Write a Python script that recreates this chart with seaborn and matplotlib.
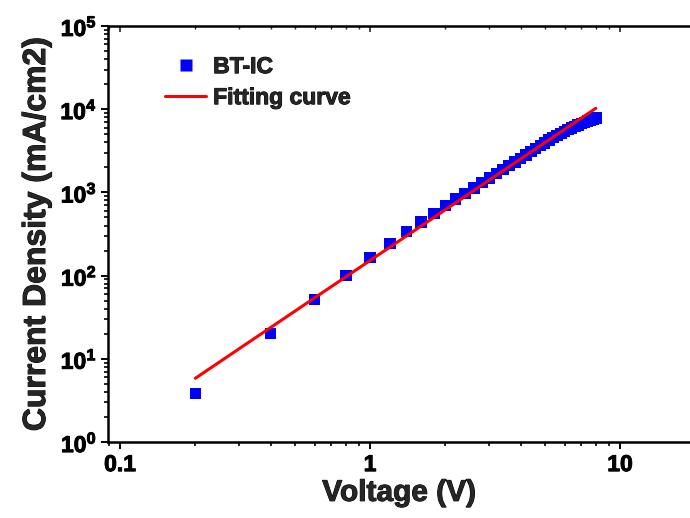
import numpy as np
import pandas as pd
import matplotlib
matplotlib.use("Agg")
import matplotlib.pyplot as plt
import matplotlib.patheffects as pe
from matplotlib.ticker import LogLocator, FixedLocator, FixedFormatter, NullFormatter
from matplotlib.lines import Line2D
import seaborn as sns

# Measured J-V data (BT-IC device)
voltage = [0.2, 0.4, 0.6, 0.8, 1.0, 1.2, 1.4, 1.6, 1.8, 2.0,
           2.2, 2.4, 2.6, 2.8, 3.0, 3.2, 3.4, 3.6, 3.8, 4.0,
           4.2, 4.4, 4.6, 4.8, 5.0, 5.2, 5.4, 5.6, 5.8, 6.0,
           6.2, 6.4, 6.6, 6.8, 7.0, 7.2, 7.4, 7.6, 7.8, 8.0]
current_density = [3.85, 20.2, 52, 100, 164, 244, 337, 441, 561, 692,
                   834, 975, 1130, 1309, 1490, 1680, 1880, 2100, 2330, 2570,
                   2820, 3080, 3360, 3640, 3940, 4240, 4540, 4840, 5140, 5430,
                   5710, 5980, 6240, 6490, 6730, 6970, 7190, 7410, 7620, 7830]

# Power-law fit, straight line in log-log space between its end points
fit_voltage = [0.2, 8.0]
fit_density = [5.83, 10250]

y_ticks = [1, 10, 100, 1000, 10000, 100000]
y_tick_labels = [r"$10^{0}$", r"$10^{1}$", r"$10^{2}$", r"$10^{3}$", r"$10^{4}$", r"$10^{5}$"]
x_ticks = [0.1, 1, 10]
x_tick_labels = ["0.1", "1", "10"]

sns.set_style("ticks")
plt.rcParams["font.family"] = ["Liberation Sans", "DejaVu Sans"]
plt.rcParams["font.weight"] = "bold"
plt.rcParams["mathtext.fontset"] = "custom"
plt.rcParams["mathtext.rm"] = "Liberation Sans:bold"
plt.rcParams["mathtext.it"] = "Liberation Sans:bold"
plt.rcParams["mathtext.bf"] = "Liberation Sans:bold"

# a thin outline thickens the bold lettering a little
heavy = [pe.withStroke(linewidth=0.7, foreground="black")]

df_data = pd.DataFrame({"V": voltage, "J": current_density})
df_fit = pd.DataFrame({"V": fit_voltage, "J": fit_density})

fig = plt.figure(figsize=(6.9, 5.18), dpi=100)
ax = fig.add_axes([108 / 690, 76 / 518, 1 - 108 / 690, 416 / 518])

sns.lineplot(data=df_fit, x="V", y="J", ax=ax, color="#ff0000", linewidth=2.2,
             zorder=3, legend=False)
sns.scatterplot(data=df_data, x="V", y="J", ax=ax, marker="s", s=68,
                color="#0000ff", edgecolor="none", zorder=2, legend=False)

ax.set_xscale("log")
ax.set_yscale("log")
ax.set_xlim(0.0895, 19.05)
ax.set_ylim(1, 1e5)

ax.xaxis.set_major_locator(FixedLocator(x_ticks))
ax.xaxis.set_major_formatter(FixedFormatter(x_tick_labels))
ax.xaxis.set_minor_locator(LogLocator(base=10, subs=np.arange(2, 10)))
ax.xaxis.set_minor_formatter(NullFormatter())
ax.yaxis.set_major_locator(FixedLocator(y_ticks))
ax.yaxis.set_major_formatter(FixedFormatter(y_tick_labels))
ax.yaxis.set_minor_locator(LogLocator(base=10, subs=np.arange(2, 10)))
ax.yaxis.set_minor_formatter(NullFormatter())

for side in ["left", "bottom", "top"]:
    ax.spines[side].set_linewidth(1.8)
    ax.spines[side].set_color("black")
ax.spines["right"].set_visible(False)

ax.tick_params(axis="both", which="major", direction="out", length=5, width=1.4,
               labelsize=16.5, pad=3, colors="black")
ax.tick_params(axis="both", which="minor", direction="out", length=3.2, width=1.2,
               colors="black")
ax.tick_params(top=False, right=False)

# Unlabelled ticks along the top edge, pointing into the plot
top = ax.secondary_xaxis("top")
top.set_xscale("log")
top.xaxis.set_major_locator(FixedLocator(x_ticks))
top.xaxis.set_minor_locator(LogLocator(base=10, subs=np.arange(2, 10)))
top.xaxis.set_major_formatter(NullFormatter())
top.xaxis.set_minor_formatter(NullFormatter())
top.tick_params(which="major", direction="in", length=4, width=1.2)
top.tick_params(which="minor", direction="in", length=2.5, width=1.0)
top.spines["top"].set_visible(False)

for lbl in ax.get_xticklabels() + ax.get_yticklabels():
    lbl.set_fontweight("bold")
    lbl.set_path_effects(heavy)

xl = ax.set_xlabel("Voltage (V)", fontsize=21.5, fontweight="bold", labelpad=2)
yl = ax.set_ylabel("Current Density (mA/cm2)", fontsize=23, fontweight="bold", labelpad=6)
xl.set_path_effects(heavy)
yl.set_path_effects(heavy)

handles = [
    Line2D([], [], linestyle="none", marker="s", markersize=8.3, color="#0000ff",
           markeredgecolor="none", label="BT-IC"),
    Line2D([], [], color="#ff0000", linewidth=2.2, label="Fitting curve"),
]
leg = ax.legend(handles=handles, loc="upper left", bbox_to_anchor=(0.098, 0.93),
                frameon=False, handlelength=1.8, handletextpad=0.3,
                labelspacing=0.35, borderpad=0, borderaxespad=0,
                prop={"weight": "bold", "size": 16.5})
for t in leg.get_texts():
    t.set_path_effects(heavy)

fig.savefig("out.png", dpi=100)
